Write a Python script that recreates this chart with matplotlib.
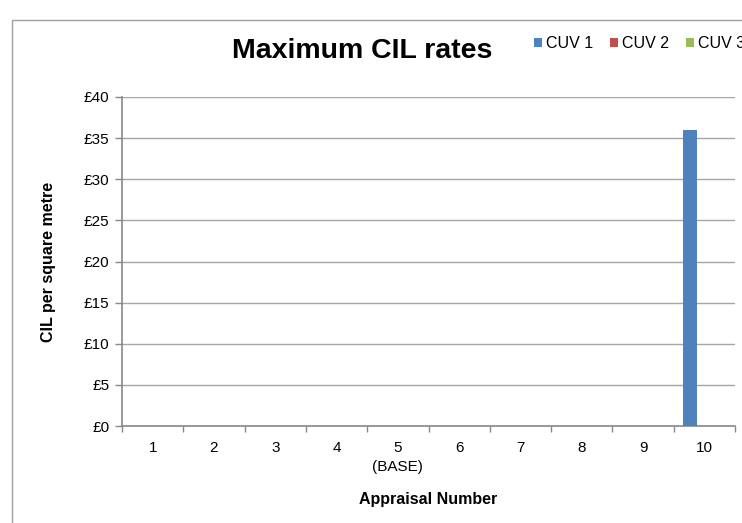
import numpy as np
import matplotlib.pyplot as plt
from matplotlib.patches import Rectangle

plt.rcParams["font.family"] = ["Liberation Sans", "DejaVu Sans"]

appraisals = ["1", "2", "3", "4", "5\n(BASE)", "6", "7", "8", "9", "10"]
cuv1 = [0, 0, 0, 0, 0, 0, 0, 0, 0, 36]
cuv2 = [0, 0, 0, 0, 0, 0, 0, 0, 0, 0]
cuv3 = [0, 0, 0, 0, 0, 0, 0, 0, 0, 0]
series_names = ["CUV 1", "CUV 2", "CUV 3"]
colors = ["#4F81BD", "#C0504D", "#9BBB59"]

fig = plt.figure(figsize=(7.42, 5.23), dpi=100)
W, H = 742, 523

# chart frame (runs off the right and bottom edges)
fig.patches.append(Rectangle((12 / W, -0.1), 1, 1.1 - 20 / H, transform=fig.transFigure,
                             fill=False, edgecolor="#A0A0A0", linewidth=1.0))

ax = fig.add_axes([122 / W, 1 - 426 / H, (735 - 122) / W, (426 - 97) / H])

x = np.arange(len(appraisals))
bw = 0.228
for i, (vals, name, c) in enumerate(zip([cuv1, cuv2, cuv3], series_names, colors)):
    ax.bar(x + (i - 1) * bw, vals, bw, color=c, label=name, zorder=3)

ax.set_xlim(-0.5, len(appraisals) - 0.5)
ax.set_ylim(0, 40)
ax.set_yticks(np.arange(0, 41, 5))
ax.set_yticklabels([f"£{v}" for v in range(0, 41, 5)], fontsize=11)
ax.yaxis.grid(True, color="#A6A6A6", linewidth=1.0, zorder=0)

ax.set_xticks(x)
ax.set_xticklabels(appraisals, fontsize=11)
for t in ax.get_xticklabels():
    t.set_linespacing(1.45)
ax.set_xticks(np.arange(-0.5, len(appraisals)), minor=True)
ax.tick_params(axis="x", which="major", length=0, pad=11)
ax.tick_params(axis="x", which="minor", length=4, color="#888888", width=1)
ax.tick_params(axis="y", length=5, color="#888888", width=1, pad=4)

for s in ["top", "right"]:
    ax.spines[s].set_visible(False)
for s in ["left", "bottom"]:
    ax.spines[s].set_color("#888888")
    ax.spines[s].set_linewidth(1.2)

ax.set_ylabel("CIL per square metre", fontsize=11.5, fontweight="bold", labelpad=20)
ax.set_xlabel("Appraisal Number", fontsize=11.5, fontweight="bold", labelpad=13)

fig.text(362 / W, 1 - 58 / H, "Maximum CIL rates", fontsize=20.5, fontweight="bold",
         ha="center", va="baseline")

ax.legend(loc="center left", bbox_to_anchor=(534 / W, 1 - 44 / H),
          bbox_transform=fig.transFigure, ncol=3, frameon=False, fontsize=11.5,
          handlelength=0.5, handleheight=0.5, handletextpad=0.25, columnspacing=1.06,
          borderaxespad=0, borderpad=0)

fig.savefig("out.png", dpi=100)
